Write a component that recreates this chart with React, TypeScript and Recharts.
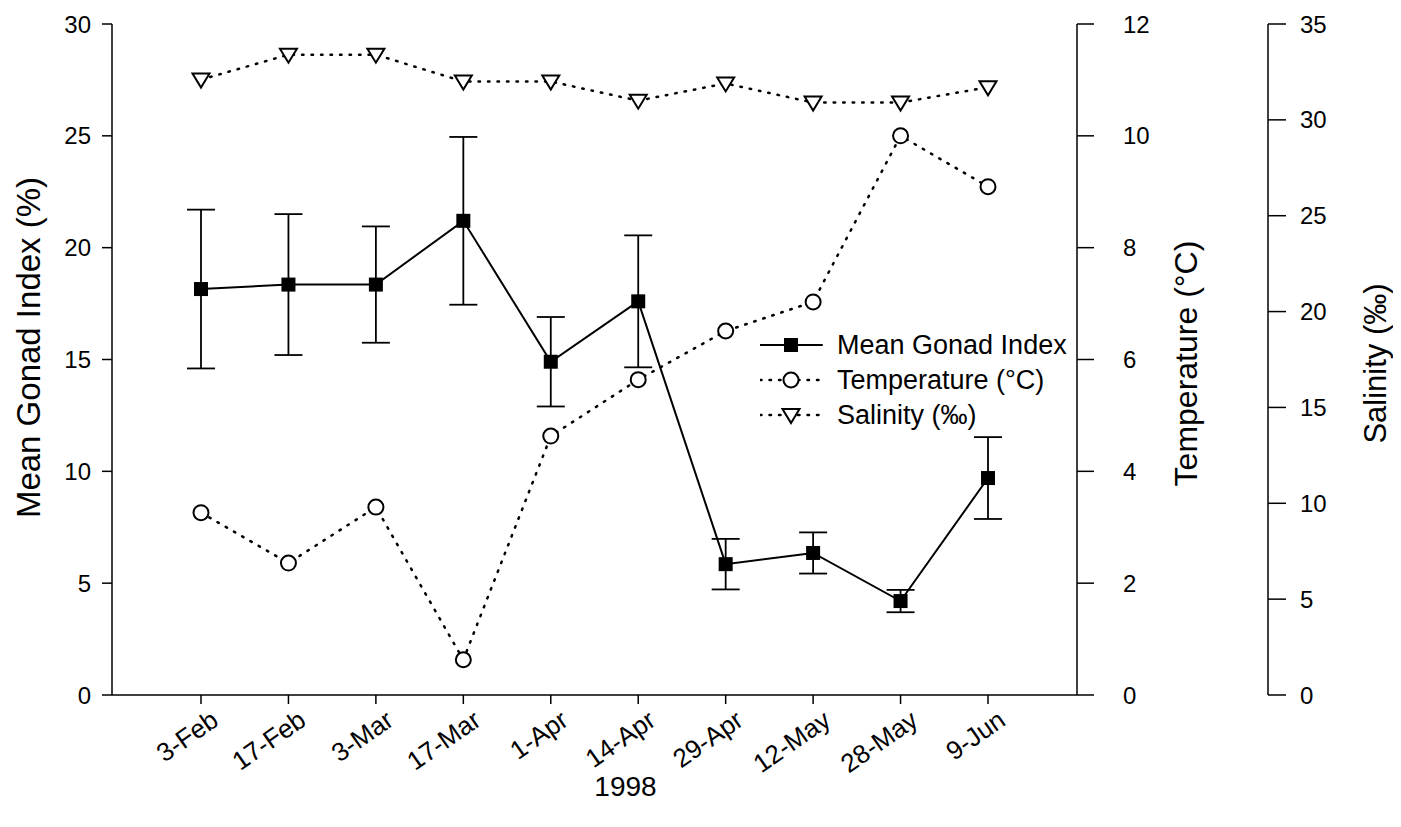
import React from "react";
import { LineChart, Line, XAxis, YAxis, ErrorBar, Legend } from "recharts";

const dates = ["3-Feb", "17-Feb", "3-Mar", "17-Mar", "1-Apr", "14-Apr", "29-Apr", "12-May", "28-May", "9-Jun"];
const gonadIndex = [18.15, 18.35, 18.35, 21.2, 14.9, 17.6, 5.85, 6.35, 4.2, 9.7];
const gonadError = [3.55, 3.15, 2.6, 3.75, 2.0, 2.95, 1.13, 0.92, 0.5, 1.83];
const temperature = [3.26, 2.36, 3.36, 0.63, 4.63, 5.64, 6.51, 7.03, 10.0, 9.09];
const salinity = [32.1, 33.4, 33.4, 32.0, 32.0, 31.0, 31.9, 30.9, 30.9, 31.7];

const gonadTicks = [0, 5, 10, 15, 20, 25, 30];
const tempTicks = [0, 2, 4, 6, 8, 10, 12];
const salTicks = [0, 5, 10, 15, 20, 25, 30, 35];

const data = dates.map((d, i) => ({
  date: d,
  gonad: gonadIndex[i],
  err: gonadError[i],
  temp: temperature[i],
  sal: salinity[i],
}));

const FONT = "'Liberation Sans', Arial, sans-serif";

const Square = ({ cx, cy }: any) => (
  <rect x={cx - 7} y={cy - 7} width={14} height={14} fill="#000" />
);

const Circle = ({ cx, cy }: any) => (
  <circle cx={cx} cy={cy} r={7.5} fill="#fff" stroke="#000" strokeWidth={2} />
);

const DownTriangle = ({ cx, cy }: any) => (
  <path
    d={`M${cx - 8.5},${cy - 6} L${cx + 8.5},${cy - 6} L${cx},${cy + 8} Z`}
    fill="#fff"
    stroke="#000"
    strokeWidth={2}
  />
);

const DateTick = ({ x, y, payload }: any) => (
  <g transform={`translate(${x + 8},${y + 2}) rotate(-35)`}>
    <text x={0} y={0} dy="0.75em" textAnchor="end" fontSize={26} fontFamily={FONT} fill="#000">
      {payload.value}
    </text>
  </g>
);

const axisTitle = (text: string, shift: number, lift: number, size: number) => (props: any) => {
  const { x, y, width, height } = props.viewBox;
  const cx = x + width / 2 + shift;
  const cy = y + height / 2 + lift;
  return (
    <text
      x={cx}
      y={cy}
      transform={`rotate(-90 ${cx} ${cy})`}
      textAnchor="middle"
      dominantBaseline="central"
      fontSize={size}
      fontFamily={FONT}
      fill="#000"
    >
      {text}
    </text>
  );
};

const yearLabel = (props: any) => {
  const { x, width, y, height } = props.viewBox;
  return (
    <text x={x + width / 2 + 31} y={y + height - 22} textAnchor="middle" fontSize={28} fontFamily={FONT} fill="#000">
      1998
    </text>
  );
};

const LegendBox = () => {
  const rows = [
    { name: "Mean Gonad Index", solid: true, mark: "square" },
    { name: "Temperature (°C)", solid: false, mark: "circle" },
    { name: "Salinity (‰)", solid: false, mark: "tri" },
  ];
  return (
    <svg width={340} height={110}>
      {rows.map((r, i) => {
        const cy = 18 + i * 35;
        return (
          <g key={r.name}>
            <line
              x1={0}
              x2={62}
              y1={cy}
              y2={cy}
              stroke="#000"
              strokeWidth={r.solid ? 2 : 2.5}
              strokeDasharray={r.solid ? undefined : "1.5 8"}
              strokeLinecap="round"
            />
            {r.mark === "square" && <Square cx={31} cy={cy} />}
            {r.mark === "circle" && <Circle cx={31} cy={cy} />}
            {r.mark === "tri" && <DownTriangle cx={31} cy={cy} />}
            <text x={77} y={cy} dominantBaseline="central" fontSize={27} fontFamily={FONT} fill="#000">
              {r.name}
            </text>
          </g>
        );
      })}
    </svg>
  );
};

const axisStyle = { stroke: "#000", strokeWidth: 1.5 };
const tickStyle = { fontSize: 24, fontFamily: FONT, fill: "#000" };

export default function App() {
  return (
    <LineChart width={1385} height={810} data={data} margin={{ top: 16, right: 0, bottom: 0, left: 0 }}>
      <XAxis
        dataKey="date"
        scale="point"
        padding={{ left: 89, right: 89 }}
        axisLine={axisStyle}
        tickLine={axisStyle}
        tickSize={9}
        tick={<DateTick />}
        interval={0}
        height={123}
        label={yearLabel}
      />
      <YAxis
        yAxisId="g"
        domain={[0, 30]}
        ticks={gonadTicks}
        width={104}
        axisLine={axisStyle}
        tickLine={axisStyle}
        tickSize={10}
        tickMargin={11}
        tick={tickStyle}
        label={axisTitle("Mean Gonad Index (%)", -32, -12, 33)}
      />
      <YAxis
        yAxisId="r1"
        orientation="right"
        domain={[0, 12]}
        ticks={tempTicks}
        width={191}
        axisLine={axisStyle}
        tickLine={axisStyle}
        tickSize={17}
        tickMargin={20}
        tick={{ ...tickStyle, dx: 9 }}
        label={axisTitle("Temperature (°C)", 13, 4, 32)}
      />
      <YAxis
        yAxisId="r2"
        orientation="right"
        domain={[0, 35]}
        ticks={salTicks}
        width={125}
        axisLine={axisStyle}
        tickLine={axisStyle}
        tickSize={18}
        tickMargin={12}
        tick={{ ...tickStyle, dx: 2 }}
        label={axisTitle("Salinity (‰)", 45, 4, 31)}
      />
      <Legend
        layout="vertical"
        align="center"
        verticalAlign="middle"
        content={<LegendBox />}
        wrapperStyle={{ left: 752, top: 319, width: 340 }}
      />
      <Line
        yAxisId="r2"
        dataKey="sal"
        name="Salinity (‰)"
        stroke="#000"
        strokeWidth={2.5}
        strokeDasharray="1.5 8"
        strokeLinecap="round"
        dot={<DownTriangle />}
        activeDot={false}
        isAnimationActive={false}
      />
      <Line
        yAxisId="r1"
        dataKey="temp"
        name="Temperature (°C)"
        stroke="#000"
        strokeWidth={2.5}
        strokeDasharray="1.5 8"
        strokeLinecap="round"
        dot={<Circle />}
        activeDot={false}
        isAnimationActive={false}
      />
      <Line
        yAxisId="g"
        dataKey="gonad"
        name="Mean Gonad Index"
        stroke="#000"
        strokeWidth={2}
        dot={<Square />}
        activeDot={false}
        isAnimationActive={false}
      >
        <ErrorBar dataKey="err" direction="y" width={14} stroke="#000" strokeWidth={1.8} isAnimationActive={false} />
      </Line>
    </LineChart>
  );
}
